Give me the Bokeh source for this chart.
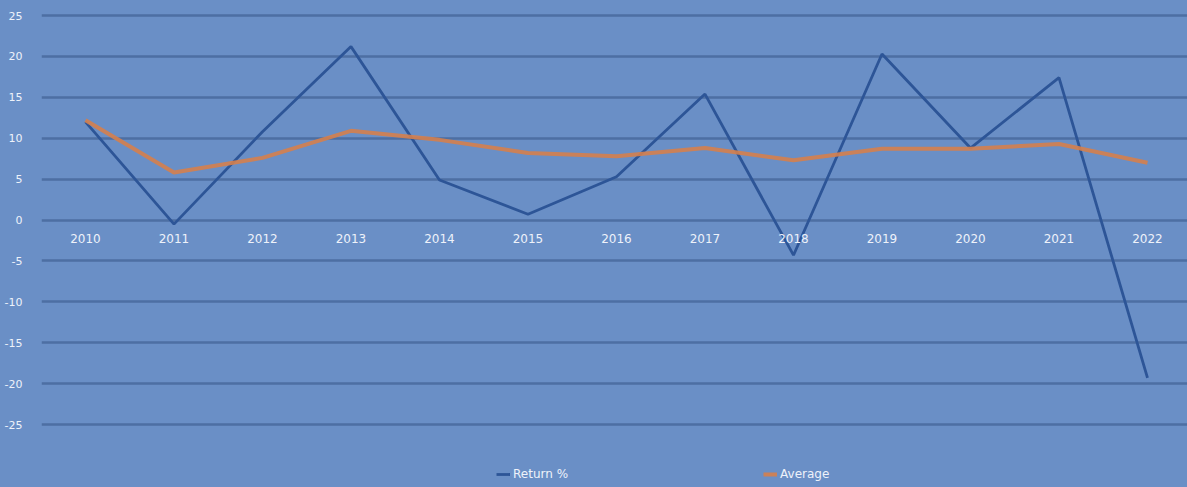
from bokeh.plotting import figure
from bokeh.models import Range1d, FixedTicker, Legend, LegendItem, ColumnDataSource
from bokeh.embed import file_html
from bokeh.resources import INLINE

years = ["2010", "2011", "2012", "2013", "2014", "2015", "2016",
         "2017", "2018", "2019", "2020", "2021", "2022"]
returns = [12.0, -0.5, 10.8, 21.2, 4.9, 0.7, 5.3, 15.4, -4.3, 20.3, 8.8, 17.4, -19.3]
average = [12.2, 5.8, 7.6, 10.9, 9.8, 8.2, 7.8, 8.8, 7.3, 8.7, 8.7, 9.3, 7.0]
y_ticks = [-25, -20, -15, -10, -5, 0, 5, 10, 15, 20, 25]

BG = "#6a8fc6"
GRID = "#4d6fa3"
TXT = "#eef2fa"
FONT = "DejaVu Sans"

idx = list(range(len(years)))
src = ColumnDataSource(dict(x=idx, r=returns, a=average))

p = figure(width=1187, height=487, output_backend="svg", toolbar_location=None,
           x_range=Range1d(-0.497, 12.452), y_range=Range1d(-32.7, 25.37),
           min_border_left=41, min_border_right=0, min_border_top=12, min_border_bottom=0,
           background_fill_color=BG, background_fill_alpha=0,
           border_fill_color=BG, border_fill_alpha=0, outline_line_color=None)
p.styles = {"background-color": BG}

p.xgrid.visible = False
p.ygrid.grid_line_color = GRID
p.ygrid.grid_line_width = 2.5
p.ygrid.ticker = FixedTicker(ticks=y_ticks)

p.yaxis.ticker = FixedTicker(ticks=y_ticks)
p.yaxis.major_label_overrides = {t: str(t) for t in y_ticks}
p.yaxis.axis_line_color = None
p.yaxis.major_tick_line_color = None
p.yaxis.minor_tick_line_color = None
p.yaxis.major_label_text_color = TXT
p.yaxis.major_label_text_font = FONT
p.yaxis.major_label_text_font_size = "11px"
p.yaxis.major_label_standoff = 13

p.xaxis.ticker = FixedTicker(ticks=idx)
p.xaxis.major_label_overrides = {i: y for i, y in zip(idx, years)}
p.xaxis.fixed_location = 0
p.xaxis.axis_line_color = None
p.xaxis.major_tick_line_color = None
p.xaxis.minor_tick_line_color = None
p.xaxis.major_label_text_color = TXT
p.xaxis.major_label_text_font = FONT
p.xaxis.major_label_text_font_size = "12px"
p.xaxis.major_label_standoff = 8

r1 = p.line("x", "r", source=src, line_color="#2d5597", line_width=2.8)
r2 = p.line("x", "a", source=src, line_color="#d5804c", line_width=4, line_alpha=0.9)

legend = Legend(items=[LegendItem(label="Return %", renderers=[r1]),
                       LegendItem(label="Average", renderers=[r2])],
                orientation="horizontal", location=(455, 6),
                background_fill_alpha=0, border_line_color=None,
                label_text_color=TXT, label_text_font=FONT, label_text_font_size="12px",
                glyph_width=14, glyph_height=12, label_standoff=3, spacing=195,
                padding=0, margin=0)
p.add_layout(legend)

open("out.html", "w").write(file_html(p, INLINE))
